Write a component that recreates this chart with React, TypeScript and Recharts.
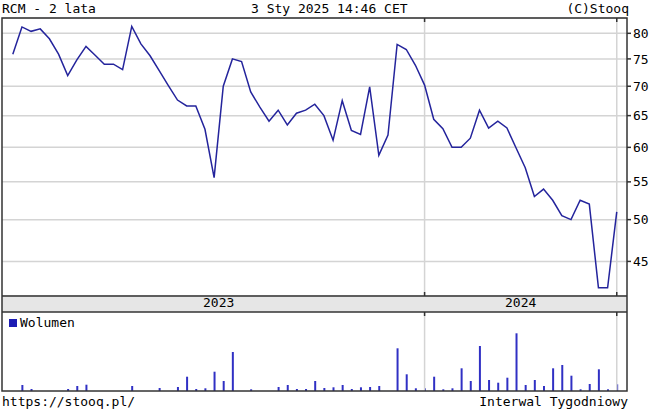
import { Bar, BarChart, CartesianGrid, Line, LineChart, ReferenceLine, XAxis, YAxis } from "recharts";

// weekly closes, RCM, last 2 years (weeks without trades skipped)
const closes = [
  75.9, 81.3, 80.4, 80.9, 78.9, 75.9, 71.9, 74.8, 77.4, 75.7,
  74.0, 74.0, 73.0, 81.4, 77.9, 75.6, 72.8, 70.1, 67.6, 66.6,
  66.6, 62.8, 55.6, 70.0, 75.0, 74.5, 69.0, 66.4, 64.1, 65.9,
  63.5, 65.4, 65.9, 66.9, 65.0, 61.1, 67.5, 62.6, 62.0, 69.9,
  58.8, 61.9, 77.8, 76.8, 73.8, 70.2, 64.4, 62.9, 60.0, 60.0,
  61.4, 65.9, 63.0, 64.1, 63.0, 59.9, 57.0, 53.0, 54.0, 52.5,
  50.5, 50.0, 52.5, 52.0, 42.1, 42.1, 51.0,
];

// weekly volume (relative units)
const volumes = [
  0, 6, 2, 0, 0, 0, 2, 5, 6.3, 0,
  0, 0, 0, 5, 0, 0, 3, 0, 4, 14.3,
  2, 2.7, 19.3, 10, 39, 0, 1.7, 0, 0, 4,
  6, 2, 2, 10, 3, 3.7, 6, 2, 3.7, 4,
  5, 0, 42.7, 16.7, 2.7, 2.7, 14.3, 1.7, 2.7, 22.7,
  10, 45, 11, 8.3, 13.3, 57.7, 6, 11, 5, 22.7,
  26, 15.3, 1.7, 7, 21.7, 1.7, 6.7,
];

const priceTicks = [45, 50, 55, 60, 65, 70, 75, 80];
const years = ["2023", "2024"];
const yearBreaks = [45, 66]; // first week of 2024, first week of 2025
const yearMids = [yearBreaks[0] / 2, (yearBreaks[0] + yearBreaks[1]) / 2];

const xDomain: [number, number] = [-1.18, 67.12];
const priceDomain: [number, number] = [41.24, 83.15];

const FONT = '"DejaVu Sans Mono", monospace';
const FRAME = "#333";
const GRID = "#d4d4d4";

const tickStyle = { fill: "#000", fontSize: 13, fontFamily: FONT };

// small dark marks at the year breaks, pointing into a panel
function BreakMarks({ id, side }: { id: string; side: "top" | "bottom" }) {
  return (
    <XAxis
      xAxisId={id}
      orientation={side}
      mirror
      dataKey="i"
      type="number"
      domain={xDomain}
      allowDataOverflow
      ticks={yearBreaks}
      interval={0}
      axisLine={false}
      tickSize={4}
      tickLine={{ stroke: FRAME, strokeWidth: 1.5 }}
      tickFormatter={() => ""}
    />
  );
}

export default function App() {
  const rows = closes.map((close, i) => ({ i, close, volume: volumes[i] }));

  return (
    <div
      style={{
        position: "absolute",
        left: 0,
        top: 0,
        width: 649,
        height: 411,
        background: "#fff",
        fontFamily: FONT,
        fontSize: 13,
        lineHeight: "16px",
        color: "#000",
        whiteSpace: "pre",
      }}
    >
      <div style={{ position: "absolute", left: 2, top: 1 }}>RCM - 2 lata</div>
      <div style={{ position: "absolute", left: 251, top: 1 }}>3 Sty 2025 14:46 CET</div>
      <div style={{ position: "absolute", right: 20, top: 1 }}>(C)Stooq</div>

      <div style={{ position: "absolute", left: 2, top: 296, width: 625, height: 16, background: "#e6e6e6" }} />

      <div style={{ position: "absolute", left: 0, top: 0 }}>
        <LineChart width={649} height={312} data={rows} margin={{ top: 18, right: 0, bottom: 0, left: 2 }}>
          <CartesianGrid yAxisId="price" vertical={false} stroke={GRID} strokeWidth={1.5} />
          <XAxis
            dataKey="i"
            type="number"
            domain={xDomain}
            allowDataOverflow
            ticks={yearMids}
            interval={0}
            tickFormatter={(v) => years[yearMids.indexOf(v)] ?? ""}
            height={16}
            axisLine={false}
            tickLine={false}
            tickSize={0}
            tickMargin={2}
            tick={tickStyle}
          />
          {BreakMarks({ id: "marksTop", side: "top" })}
          {BreakMarks({ id: "marksBottom", side: "bottom" })}
          <YAxis
            yAxisId="price"
            orientation="right"
            width={22}
            type="number"
            scale="log"
            domain={priceDomain}
            allowDataOverflow
            ticks={priceTicks}
            interval={0}
            axisLine={false}
            tickSize={4}
            tickMargin={2}
            tickLine={{ stroke: FRAME, strokeWidth: 1.5 }}
            tick={tickStyle}
          />
          <YAxis
            yAxisId="edge"
            orientation="left"
            width={0}
            mirror
            type="number"
            scale="log"
            domain={priceDomain}
            allowDataOverflow
            ticks={priceTicks}
            interval={0}
            axisLine={false}
            tickSize={3}
            tickLine={{ stroke: FRAME, strokeWidth: 1.5 }}
            tickFormatter={() => ""}
          />
          {yearBreaks.map((b) => (
            <ReferenceLine key={b} yAxisId="price" x={b} stroke={GRID} strokeWidth={1.5} />
          ))}
          <Line
            yAxisId="price"
            dataKey="close"
            stroke="#24249c"
            strokeWidth={1.5}
            dot={false}
            isAnimationActive={false}
          />
        </LineChart>
      </div>

      <div style={{ position: "absolute", left: 0, top: 312 }}>
        <BarChart width={649} height={79} data={rows} margin={{ top: 0, right: 22, bottom: 0, left: 2 }}>
          <XAxis dataKey="i" type="number" domain={xDomain} allowDataOverflow hide />
          {BreakMarks({ id: "marksVol", side: "top" })}
          <YAxis type="number" domain={[0, 79]} allowDataOverflow hide />
          {yearBreaks.map((b) => (
            <ReferenceLine key={b} x={b} stroke={GRID} strokeWidth={1.5} />
          ))}
          <Bar dataKey="volume" fill="#3030c4" barSize={2} isAnimationActive={false} />
        </BarChart>
      </div>

      <div style={{ position: "absolute", left: 9, top: 319, width: 8, height: 8, background: "#1c1cb4" }} />
      <div style={{ position: "absolute", left: 20, top: 315 }}>Wolumen</div>

      <svg width={649} height={411} style={{ position: "absolute", left: 0, top: 0, pointerEvents: "none" }}>
        <g stroke={FRAME} strokeWidth={1.5} fill="none">
          <rect x={2} y={18} width={625} height={373} />
          <line x1={2} y1={296} x2={627} y2={296} />
          <line x1={2} y1={312} x2={627} y2={312} />
        </g>
      </svg>

      <div style={{ position: "absolute", left: 2, top: 394 }}>https://stooq.pl/</div>
      <div style={{ position: "absolute", right: 21, top: 394 }}>Interwal Tygodniowy</div>
    </div>
  );
}
